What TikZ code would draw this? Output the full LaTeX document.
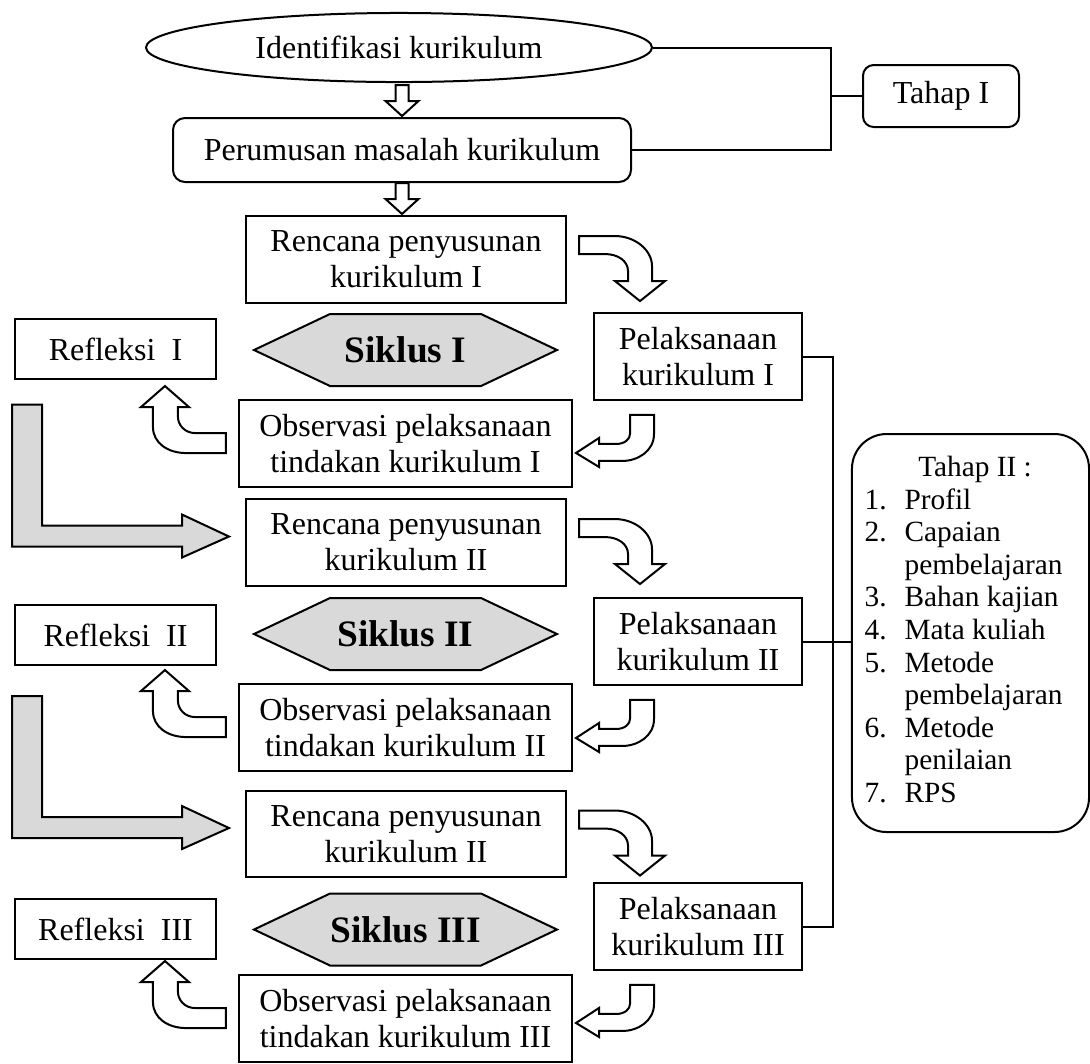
\documentclass[tikz,border=0pt]{standalone}
\usepackage{fontspec}
\setmainfont{Liberation Serif}
\usetikzlibrary{calc, positioning, shapes.geometric}

\tikzset{
  box/.style={draw, inner sep=0pt, align=center, font=\fontsize{12}{13.5}\selectfont},
  roundbox/.style={box, rounded corners=4.5pt},
  oval/.style={box, ellipse, minimum width=189.75pt, minimum height=25.9pt},
  planbox/.style={box, minimum width=120pt, minimum height=32.6pt},
  refbox/.style={box, minimum width=75.4pt, minimum height=22.5pt},
  actbox/.style={box, minimum width=78pt, minimum height=32.6pt},
  obsbox/.style={box, minimum width=124.9pt, minimum height=32.6pt},
  cyclabel/.style={inner sep=0pt, font=\fontsize{14}{16}\selectfont\bfseries},
  blockout/.style={draw, fill=white, line join=miter},
  greyfill/.style={draw, fill=gray!30, line join=miter},
  % shapes drawn relative to a node anchor
  pics/hexagon/.style={code={
    \path[greyfill] (-151.5,0) -- (-75.5,-36) -- (75.5,-36) -- (151.5,0) -- (75.5,36) -- (-75.5,36) -- cycle;}},
  pics/downarrow/.style={code={
    \path[blockout] (-6.5,0) -- (6.5,0) -- (6.5,16) -- (16.5,16) -- (0,31) -- (-16.5,16) -- (-6.5,16) -- cycle;}},
  pics/bendright/.style={code={
    \path[blockout] (12,21) -- (48,21) .. controls (68,21) and (85,35) .. (85,51) -- (85,66) -- (98,66) -- (73,86)
      -- (48,66) -- (61,66) -- (61,56) .. controls (61,46) and (51,39) .. (38,39) -- (12,39) -- cycle;}},
  pics/bendleft/.style={code={
    \path[blockout] (37,14) -- (61,14) -- (61,33) .. controls (61,50) and (45,60) .. (29,60) -- (6,60) -- (6,66)
      -- (-17,52) -- (6,37) -- (6,43) -- (23,43) .. controls (32,43) and (37,38) .. (37,33) -- cycle;}},
  pics/bendup/.style={code={
    \path[blockout] (-12,34) -- (-43,34) .. controls (-53,34) and (-60,26) .. (-60,18) -- (-60,8) -- (-49,8)
      -- (-73,-13) -- (-97,8) -- (-85,8) -- (-85,28) .. controls (-85,44) and (-70,54) .. (-52,54) -- (-12,54) -- cycle;}},
  pics/looparrow/.style={code={
    \path[greyfill] (-233,-138) -- (-203,-138) -- (-203,-17) -- (-63,-17) -- (-63,-28) -- (-16,-6)
      -- (-63,15) -- (-63,4) -- (-233,4) -- cycle;}},
}

\begin{document}
\begin{tikzpicture}[x=0.375pt, y=-0.375pt, line width=0.75pt]
    \useasboundingbox (0,0) rectangle (1090,1063);

    % Tahap I
    \node[oval] (ident) at (399,47.5) {Identifikasi kurikulum};
    \node[roundbox, minimum width=171.75pt, minimum height=24pt] (rumus) at (402,150) {Perumusan masalah kurikulum};
    \node[roundbox, rounded corners=4pt, minimum width=58.5pt, minimum height=23.25pt] (tahap1) at (941,96) {Tahap I};
    \pic at ($(rumus.north)+(0,-32)$) {downarrow};
    \pic at (rumus.south) {downarrow};
    \coordinate (joint1) at ($(tahap1.west)+(-31,0)$);
    \draw (ident.east) -| (joint1) |- (rumus.east);
    \draw (joint1) -- (tahap1.west);

    % Siklus I
    \node[planbox] (ren1) at (406,259.5) {Rencana penyusunan\\kurikulum I};
    \node[refbox] (ref1) at (115.5,349) {Refleksi\ \ I};
    \pic at (405.5,350) {hexagon};
    \node[cyclabel] (sik1) at (405.5,350) {Siklus I};
    \node[actbox] (pel1) at (698,356.5) {Pelaksanaan\\kurikulum I};
    \node[obsbox] (obs1) at (405.5,443.5) {Observasi pelaksanaan\\tindakan kurikulum I};

    % Siklus II
    \node[planbox] (ren2) at (406,542.5) {Rencana penyusunan\\kurikulum II};
    \node[refbox] (ref2) at (115.5,635) {Refleksi\ \ II};
    \pic at (405.5,634) {hexagon};
    \node[cyclabel] (sik2) at (405.5,634) {Siklus II};
    \node[actbox] (pel2) at (698,641.5) {Pelaksanaan\\kurikulum II};
    \node[obsbox] (obs2) at (405.5,727.5) {Observasi pelaksanaan\\tindakan kurikulum II};

    % Siklus III
    \node[planbox] (ren3) at (406,834) {Rencana penyusunan\\kurikulum II};
    \node[refbox] (ref3) at (115.5,929) {Refleksi\ \ III};
    \pic at (405.5,929.5) {hexagon};
    \node[cyclabel] (sik3) at (405.5,929.5) {Siklus III};
    \node[actbox] (pel3) at (698,926.5) {Pelaksanaan\\kurikulum III};
    \node[obsbox] (obs3) at (405.5,1018.5) {Observasi pelaksanaan\\tindakan kurikulum III};

    % block arrows of the cycles
    \pic at (ren1.north east) {bendright};
    \pic at (pel1.south west) {bendleft};
    \pic at (obs1.north west) {bendup};
    \pic at (ren2.west) {looparrow};
    \pic at (ren2.north east) {bendright};
    \pic at (pel2.south west) {bendleft};
    \pic at (obs2.north west) {bendup};
    \pic at (ren3.west) {looparrow};
    \pic at (ren3.north east) {bendright};
    \pic at (pel3.south west) {bendleft};
    \pic at (obs3.north west) {bendup};

    % Tahap II
    \node[draw, rounded corners=13pt, inner sep=0pt, minimum width=88.9pt, minimum height=149.25pt,
          font=\fontsize{11}{12.2}\selectfont] (tahap2) at (970.5,633)
      {\raisebox{-2pt}{\hspace*{-5.2pt}\begin{tabular}{@{}r@{\hspace{6.75pt}}l@{}}
        \multicolumn{2}{c}{\hspace{8.6pt}Tahap II :}\\
        1. & Profil\\
        2. & Capaian\\
           & pembelajaran\\
        3. & Bahan kajian\\
        4. & Mata kuliah\\
        5. & Metode\\
           & pembelajaran\\
        6. & Metode\\
           & penilaian\\
        7. & RPS
      \end{tabular}}};
    \coordinate (joint2) at ($(pel2.east)+(30,0)$);
    \draw (pel1.east) -| (joint2) |- (pel3.east);
    \draw (pel2.east) -- (pel2.east -| tahap2.west);
\end{tikzpicture}
\end{document}
